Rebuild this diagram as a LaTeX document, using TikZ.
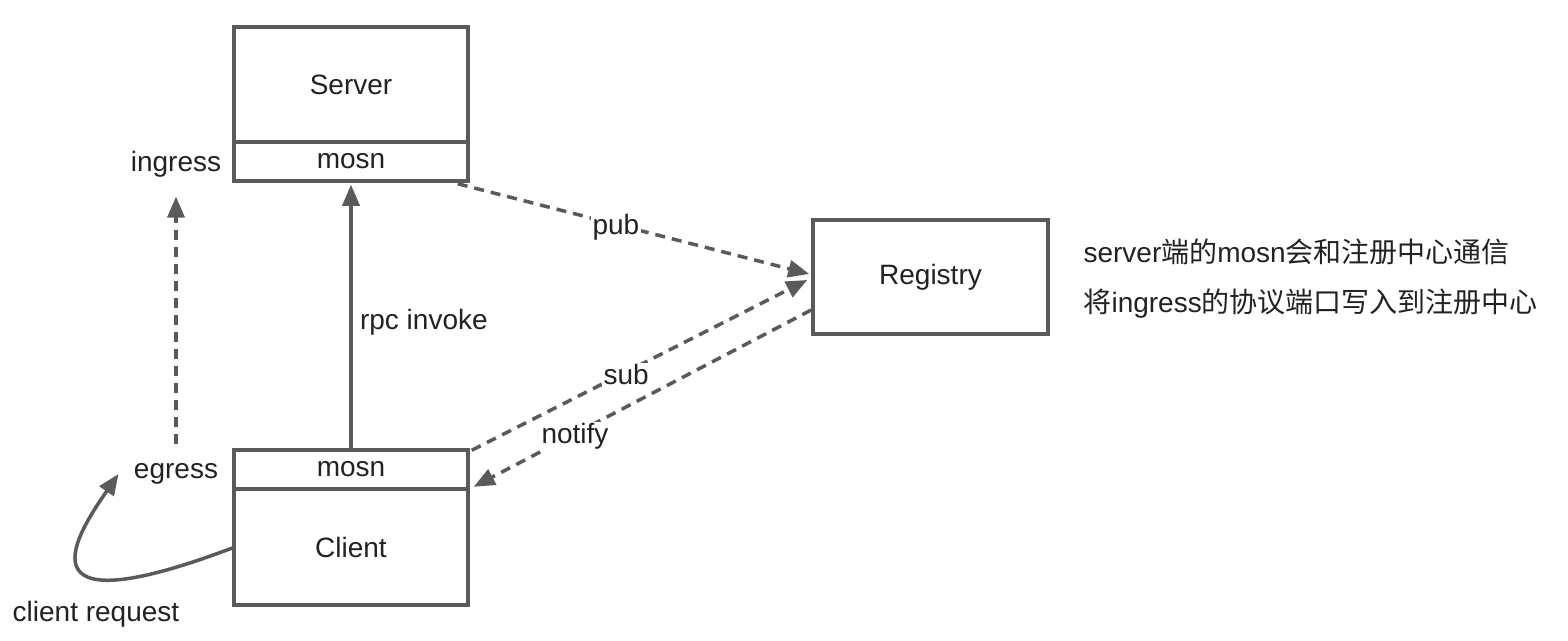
\documentclass[tikz,border=0pt]{standalone}
\usepackage{fontspec}
\setmainfont{Liberation Sans}
\newfontfamily\cjk{Noto Sans CJK SC}
\usetikzlibrary{arrows.meta,calc}
\definecolor{linegray}{HTML}{5A5A5A}
\definecolor{txt}{HTML}{222222}
\tikzset{
  every node/.style={font=\fontsize{28}{34}\selectfont, text=txt},
  box/.style={draw=linegray, line width=3.5pt, minimum width=234pt, inner sep=0pt, anchor=center},
  conn/.style={draw=linegray, line width=3.5pt, -{Triangle[length=21pt,width=17pt]}},
  dsh/.style={dash pattern=on 10pt off 7pt},
  lbl/.style={fill=white, inner sep=2pt, yshift=-3pt},
}
\begin{document}
\begin{tikzpicture}[x=1pt,y=-1pt]
\useasboundingbox[fill=white] (0,0) rectangle (1568,640);
% Server
\node[box, minimum height=115pt] (server) at (351,84.5) {Server};
\node[box, minimum height=39pt] (smosn) at (351,161.5) {mosn};
% Client
\node[box, minimum height=39pt] (cmosn) at (351,469.5) {mosn};
\node[box, minimum height=116pt] (client) at (351,547) {Client};
% Registry
\node[box, minimum width=235pt, minimum height=114pt] (reg) at (930.5,277) {Registry};
% side labels
\node (ingress) at (176,164) {ingress};
\node (egress) at (176,474) {egress};
\node (creq) at (96,614) {client request};
\node[anchor=west, align=left, text=txt] (note) at (1080,279)
  {server{\cjk 端的}mosn{\cjk 会和注册中心通信}\\[16pt]{\cjk 将}ingress{\cjk 的协议端口写入到注册中心}};
% coordinates
\coordinate (pubS) at ($(smosn.south east)+(-12,1)$);
\coordinate (pubE) at ($(reg.west)+(-2,-3)$);
\coordinate (subS) at ($(cmosn.north east)+(2,2)$);
\coordinate (subE) at ($(reg.west)+(-4,3)$);
\coordinate (notS) at ($(reg.west)+(0,33)$);
\coordinate (notE) at ($(cmosn.south east)+(4,-4)$);
\coordinate (curS) at ($(client.west)+(0,1)$);
\coordinate (curE) at ($(egress.west)+(-12,0)$);
% connectors
\draw[conn] (cmosn.north) -- node[pos=0.48, anchor=west, xshift=4pt] (rpc) {rpc invoke} ($(smosn.south)+(0,2)$);
\draw[conn, dsh] ($(egress.north)+(0,-16)$) -- ($(ingress.south)+(0,16)$);
\draw[conn, dsh] (pubS) -- node[lbl, pos=0.45] (pub) {pub} (pubE);
\draw[conn, dsh] (subS) -- node[lbl, pos=0.46] (sub) {sub} (subE);
\draw[conn, dsh] (notS) -- node[lbl, pos=0.7] (notify) {notify} (notE);
\draw[conn] (curS) .. controls (10,632) and (80,530) .. (curE);
\end{tikzpicture}
\end{document}
